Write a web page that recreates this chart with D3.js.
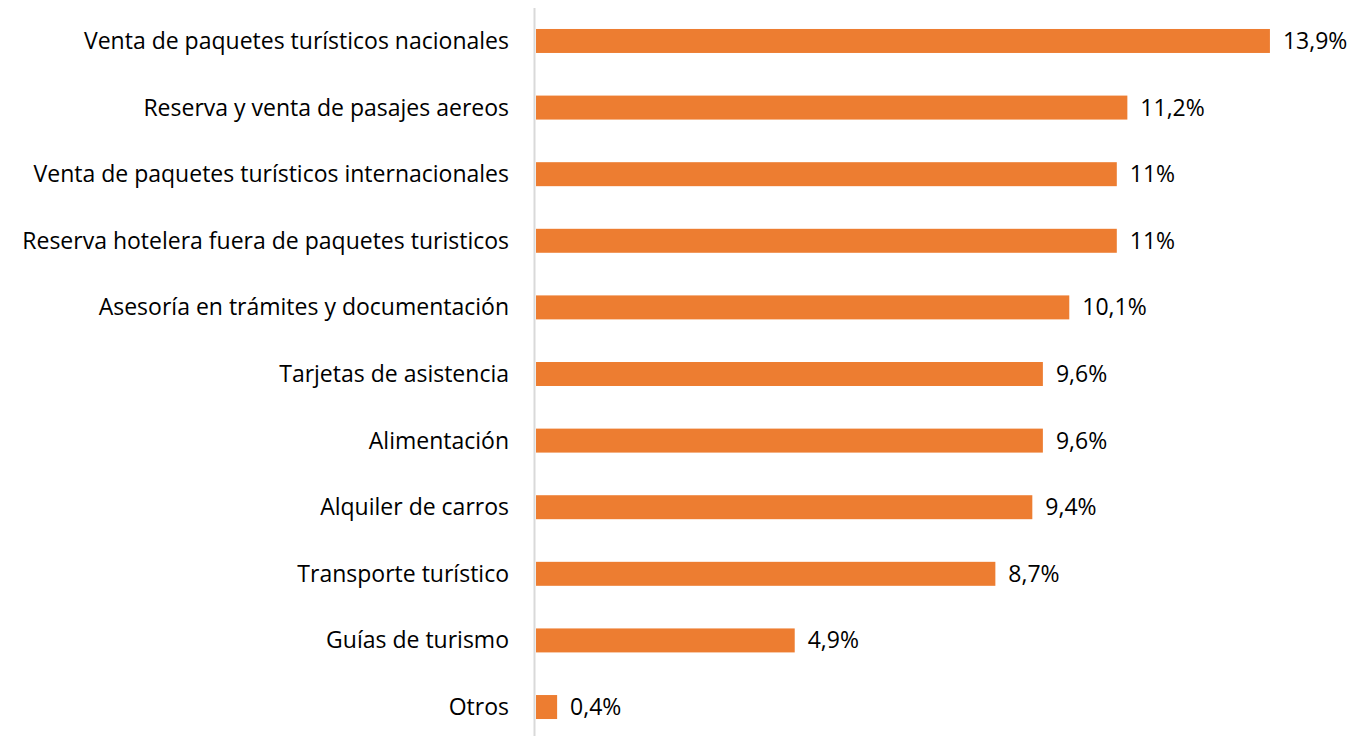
<!DOCTYPE html>
<html>
<head>
<meta charset="utf-8">
<script src="https://cdn.jsdelivr.net/npm/d3@7"></script>
<style>
  body { margin: 0; background: #fff; }
  svg { display: block; }
  text { font-family: "Open Sans", "Noto Sans", sans-serif; fill: #000; }
</style>
</head>
<body>
<svg id="chart" width="1356" height="736"></svg>
<script>
const categories = [
  "Venta de paquetes turísticos nacionales",
  "Reserva y venta de pasajes aereos",
  "Venta de paquetes turísticos internacionales",
  "Reserva hotelera fuera de paquetes turisticos",
  "Asesoría en trámites y documentación",
  "Tarjetas de asistencia",
  "Alimentación",
  "Alquiler de carros",
  "Transporte turístico",
  "Guías de turismo",
  "Otros"
]
const values = [13.9, 11.2, 11, 11, 10.1, 9.6, 9.6, 9.4, 8.7, 4.9, 0.4]
const valueLabels = ["13,9%", "11,2%", "11%", "11%", "10,1%", "9,6%", "9,6%", "9,4%", "8,7%", "4,9%", "0,4%"]

const svg = d3.select("#chart")
const x0 = 536

const x = d3.scaleLinear()
  .domain([0, 14])
  .range([x0, x0 + 52.8 * 14])

const y = d3.scaleBand()
  .domain(categories)
  .range([8, 740])
  .paddingInner(0.64)
  .paddingOuter(0.315)

// vertical axis line
svg.append("line")
  .attr("x1", x0 - 1.5).attr("x2", x0 - 1.5)
  .attr("y1", 8).attr("y2", 736)
  .attr("stroke", "#d9d9d9")
  .attr("stroke-width", 2)

svg.selectAll(".bar")
  .data(values)
  .join("rect")
  .attr("class", "bar")
  .attr("x", x(0))
  .attr("y", (d, i) => y(categories[i]))
  .attr("width", d => x(d) - x(0))
  .attr("height", y.bandwidth())
  .attr("fill", "#ed7d31")

svg.selectAll(".cat")
  .data(categories)
  .join("text")
  .attr("class", "cat")
  .attr("x", x0 - 27)
  .attr("y", d => y(d) + y.bandwidth() / 2)
  .attr("dy", "0.35em")
  .attr("text-anchor", "end")
  .attr("font-size", 23)
  .text(d => d)

svg.selectAll(".val")
  .data(values)
  .join("text")
  .attr("class", "val")
  .attr("x", d => x(d) + 13)
  .attr("y", (d, i) => y(categories[i]) + y.bandwidth() / 2)
  .attr("dy", "0.35em")
  .attr("font-size", 23)
  .text((d, i) => valueLabels[i])
</script>
</body>
</html>
